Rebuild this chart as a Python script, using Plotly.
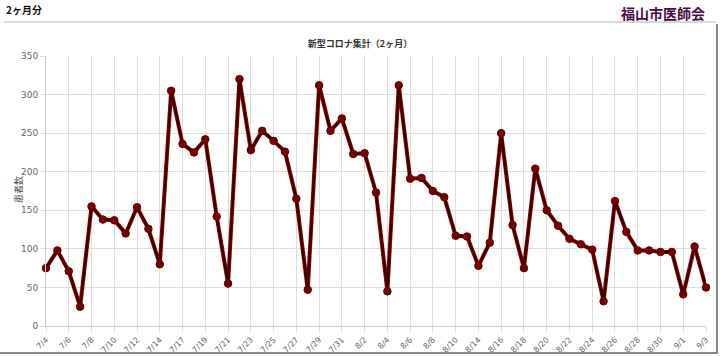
import plotly.graph_objects as go

dates = ["7/4","7/5","7/6","7/7","7/8","7/9","7/10","7/11","7/12","7/13","7/14","7/15",
         "7/17","7/18","7/19","7/20","7/21","7/22","7/23","7/24","7/25","7/26","7/27","7/28",
         "7/29","7/30","7/31","8/1","8/2","8/3","8/4","8/5","8/6","8/7","8/8","8/9","8/10",
         "8/12","8/14","8/15","8/16","8/17","8/18","8/19","8/20","8/21","8/22","8/23","8/24",
         "8/25","8/26","8/27","8/28","8/29","8/30","8/31","9/1","9/2","9/3"]
patients = [75,98,71,25,155,138,137,120,154,126,80,305,
            236,225,242,142,55,320,228,253,240,226,165,47,
            312,253,269,223,224,173,45,312,191,192,175,167,117,
            116,78,108,250,131,75,204,150,130,113,106,99,
            32,162,122,98,98,96,96,41,103,50]
y_ticks = [0,50,100,150,200,250,300,350]

title_text = "新型コロナ集計（2ヶ月）"
y_title = "患者数"
header_left = "2ヶ月分"
header_right = "福山市医師会"

JP = "Noto Sans CJK JP"
L, R, T, B = 46, 14, 56, 30
W, H = 720, 356
pw, ph = W - L - R, H - T - B

def px(xp):
    return (xp - L) / pw

def py(yp):
    return (H - B - yp) / ph

fig = go.Figure()
fig.add_trace(go.Scatter(
    x=dates, y=patients, mode="lines",
    line=dict(color="#9a0000", width=4),
    hoverinfo="skip", showlegend=False, cliponaxis=False))
fig.add_trace(go.Scatter(
    x=dates, y=patients, mode="lines+markers",
    line=dict(color="#3a0000", width=2.4),
    marker=dict(color="#7a0000", size=7.5, line=dict(color="#5a0000", width=1)),
    showlegend=False, cliponaxis=False))

fig.update_layout(
    width=W, height=H,
    margin=dict(l=L, r=R, t=T, b=B, autoexpand=False),
    paper_bgcolor="white", plot_bgcolor="white",
    font=dict(family=JP, color="#666666", size=9),
    title=dict(text=title_text, x=0.5, xanchor="center", y=1 - 44 / H, yanchor="middle",
               font=dict(family=JP, size=9, color="#333333", weight="bold")),
    xaxis=dict(
        type="category", categoryorder="array", categoryarray=dates,
        range=[0, len(dates) - 1],
        tickmode="linear", tick0=0, dtick=2,
        tickangle=-45, tickfont=dict(family="DejaVu Sans", size=8, color="#666666"),
        showgrid=True, gridcolor="#dddddd", gridwidth=1,
        ticks="outside", ticklen=5, tickcolor="#dddddd",
        showline=True, linecolor="#cccccc", zeroline=False, automargin=False,
    ),
    yaxis=dict(
        range=[0, 350], tickvals=y_ticks,
        tickfont=dict(family="DejaVu Sans", size=9, color="#666666"),
        showgrid=True, gridcolor="#dddddd", gridwidth=1,
        ticks="outside", ticklen=5, tickcolor="#dddddd",
        showline=True, linecolor="#cccccc", zeroline=False, automargin=False,
    ),
)

fig.add_annotation(text=y_title, xref="paper", yref="paper",
                   x=px(18), y=py(190), xanchor="center", yanchor="middle", textangle=-90,
                   showarrow=False, font=dict(family=JP, size=9, color="#444444"))
fig.add_annotation(text=header_left, xref="paper", yref="paper",
                   x=px(4), y=py(9), xanchor="left", yanchor="middle", showarrow=False,
                   font=dict(family=JP, size=10, color="#111111", weight="bold"))
fig.add_annotation(text=header_right, xref="paper", yref="paper",
                   x=px(707), y=py(13), xanchor="right", yanchor="middle", showarrow=False,
                   font=dict(family=JP, size=14, color="#4a0a48", weight="bold"))

# page decorations
fig.add_shape(type="line", xref="paper", yref="paper", x0=px(4), x1=px(716), y0=py(22), y1=py(22),
              line=dict(color="#cccccc", width=1.5))
fig.add_shape(type="line", xref="paper", yref="paper", x0=px(717), x1=px(717), y0=py(24), y1=py(354),
              line=dict(color="#888888", width=2))
fig.add_shape(type="line", xref="paper", yref="paper", x0=px(0), x1=px(718), y0=py(353), y1=py(353),
              line=dict(color="#888888", width=2))

fig.write_html("out.html", config={"displayModeBar": False},
               post_script="document.body.style.margin='0';")
